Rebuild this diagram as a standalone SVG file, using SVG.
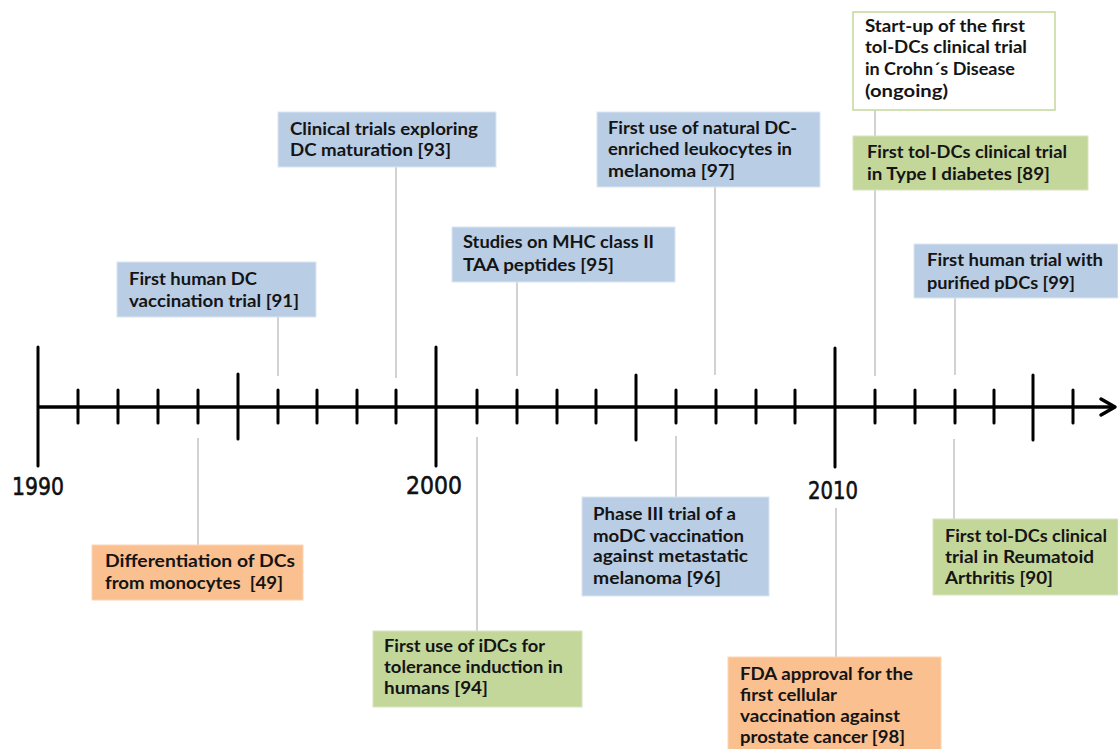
<svg xmlns="http://www.w3.org/2000/svg" width="1118" height="749" viewBox="0 0 1118 749">
<style>
.bg{fill:#ffffff}
.blue{fill:#b9cde5;stroke:#dbe5f1;stroke-width:1}
.green{fill:#c4d79b;stroke:#d7e4bd;stroke-width:1}
.orange{fill:#fac090;stroke:#fcd5b5;stroke-width:1}
.white{fill:#ffffff;stroke:#c4d79b;stroke-width:1.5}
.t{font-family:Lato,"Open Sans","Liberation Sans",sans-serif;font-weight:bold;font-size:16.5px;fill:#141414}
.yr{font-family:"DejaVu Sans","Liberation Sans",sans-serif;font-size:24px;fill:#111;stroke:#111;stroke-width:0.6}
.conn{stroke:#c3c3c3;stroke-width:1.5;fill:none}
.axis{stroke:#000;stroke-width:3.5;fill:none}
.tick{stroke:#000;stroke-width:3;stroke-linecap:round}
</style>
<rect class="bg" x="0" y="0" width="1118" height="749"/>
<g id="connectors">
<line class="conn" x1="278" y1="317" x2="278" y2="376"/>
<line class="conn" x1="396" y1="167" x2="396" y2="378"/>
<line class="conn" x1="517" y1="282" x2="517" y2="376"/>
<line class="conn" x1="715" y1="187" x2="715" y2="375"/>
<line class="conn" x1="875" y1="110" x2="875" y2="376"/>
<line class="conn" x1="955" y1="298" x2="955" y2="375"/>
<line class="conn" x1="198" y1="438" x2="198" y2="545"/>
<line class="conn" x1="477" y1="437" x2="477" y2="631"/>
<line class="conn" x1="676" y1="436" x2="676" y2="497"/>
<line class="conn" x1="836" y1="508" x2="836" y2="657"/>
<line class="conn" x1="954" y1="439" x2="954" y2="519"/>
</g>
<g id="axis">
<line class="axis" x1="38" y1="407" x2="1114" y2="407"/>
<polyline class="axis" points="1101,399 1115,407 1101,415" stroke-linejoin="round" stroke-linecap="round"/>
<line class="tick" x1="38" y1="347" x2="38" y2="466"/>
<line class="tick" x1="436" y1="347" x2="436" y2="466"/>
<line class="tick" x1="835" y1="348" x2="835" y2="467"/>
<line class="tick" x1="238" y1="374" x2="238" y2="439"/>
<line class="tick" x1="636" y1="375" x2="636" y2="440"/>
<line class="tick" x1="1033" y1="375" x2="1033" y2="440"/>
<g>
<line class="tick" x1="78" y1="390" x2="78" y2="423"/>
<line class="tick" x1="118" y1="390" x2="118" y2="423"/>
<line class="tick" x1="158" y1="390" x2="158" y2="423"/>
<line class="tick" x1="198" y1="390" x2="198" y2="423"/>
<line class="tick" x1="278" y1="390" x2="278" y2="423"/>
<line class="tick" x1="317" y1="390" x2="317" y2="423"/>
<line class="tick" x1="357" y1="390" x2="357" y2="423"/>
<line class="tick" x1="396" y1="390" x2="396" y2="423"/>
<line class="tick" x1="477" y1="390" x2="477" y2="423"/>
<line class="tick" x1="517" y1="390" x2="517" y2="423"/>
<line class="tick" x1="557" y1="390" x2="557" y2="423"/>
<line class="tick" x1="596" y1="390" x2="596" y2="423"/>
<line class="tick" x1="676" y1="390" x2="676" y2="423"/>
<line class="tick" x1="716" y1="390" x2="716" y2="423"/>
<line class="tick" x1="756" y1="390" x2="756" y2="423"/>
<line class="tick" x1="795" y1="390" x2="795" y2="423"/>
<line class="tick" x1="875" y1="390" x2="875" y2="423"/>
<line class="tick" x1="915" y1="390" x2="915" y2="423"/>
<line class="tick" x1="955" y1="390" x2="955" y2="423"/>
<line class="tick" x1="994" y1="390" x2="994" y2="423"/>
<line class="tick" x1="1073" y1="390" x2="1073" y2="423"/>
</g>
<text class="yr" x="12" y="495" textLength="52" lengthAdjust="spacingAndGlyphs">1990</text>
<text class="yr" x="406" y="494" textLength="56" lengthAdjust="spacingAndGlyphs">2000</text>
<text class="yr" x="808" y="499" textLength="50" lengthAdjust="spacingAndGlyphs">2010</text>
</g>
<g id="n91">
<rect class="blue" x="117" y="262" width="199" height="55"/>
<text class="t" x="129" y="285" textLength="128" lengthAdjust="spacingAndGlyphs">First human DC</text>
<text class="t" x="129" y="307" textLength="170" lengthAdjust="spacingAndGlyphs">vaccination trial [91]</text>
</g>
<g id="n93">
<rect class="blue" x="278" y="112" width="218" height="55"/>
<text class="t" x="290" y="135" textLength="188" lengthAdjust="spacingAndGlyphs">Clinical trials exploring</text>
<text class="t" x="290" y="156" textLength="161" lengthAdjust="spacingAndGlyphs">DC maturation [93]</text>
</g>
<g id="n95">
<rect class="blue" x="452" y="227" width="223" height="55"/>
<text class="t" x="463" y="248" textLength="191" lengthAdjust="spacingAndGlyphs">Studies on MHC class II</text>
<text class="t" x="463" y="271" textLength="151" lengthAdjust="spacingAndGlyphs">TAA peptides [95]</text>
</g>
<g id="n97">
<rect class="blue" x="597" y="112" width="223" height="75"/>
<text class="t" x="608" y="134" textLength="189" lengthAdjust="spacingAndGlyphs">First use of natural DC-</text>
<text class="t" x="608" y="155" textLength="184" lengthAdjust="spacingAndGlyphs">enriched leukocytes in</text>
<text class="t" x="608" y="177" textLength="127" lengthAdjust="spacingAndGlyphs">melanoma [97]</text>
</g>
<g id="nCrohn">
<rect class="white" x="853" y="12" width="202" height="98"/>
<text class="t" x="865" y="32" textLength="160" lengthAdjust="spacingAndGlyphs">Start-up of the first</text>
<text class="t" x="865" y="53" textLength="162" lengthAdjust="spacingAndGlyphs">tol-DCs clinical trial</text>
<text class="t" x="865" y="75" textLength="150" lengthAdjust="spacingAndGlyphs">in Crohn´s Disease</text>
<text class="t" x="865" y="97" textLength="83" lengthAdjust="spacingAndGlyphs">(ongoing)</text>
</g>
<g id="n89">
<rect class="green" x="853" y="136" width="235" height="54"/>
<text class="t" x="867" y="158" textLength="200" lengthAdjust="spacingAndGlyphs">First tol-DCs clinical trial</text>
<text class="t" x="867" y="180" textLength="183" lengthAdjust="spacingAndGlyphs">in Type I diabetes [89]</text>
</g>
<g id="n99">
<rect class="blue" x="914" y="244" width="204" height="54"/>
<text class="t" x="927" y="266" textLength="176" lengthAdjust="spacingAndGlyphs">First human trial with</text>
<text class="t" x="927" y="289" textLength="148" lengthAdjust="spacingAndGlyphs">purified pDCs [99]</text>
</g>
<g id="n49">
<rect class="orange" x="92" y="545" width="211" height="55"/>
<text class="t" x="105" y="567" textLength="190" lengthAdjust="spacingAndGlyphs">Differentiation of DCs</text>
<text class="t" x="105" y="589" textLength="178" lengthAdjust="spacingAndGlyphs" xml:space="preserve">from monocytes  [49]</text>
</g>
<g id="n94">
<rect class="green" x="373" y="631" width="209" height="76"/>
<text class="t" x="384" y="652" textLength="161" lengthAdjust="spacingAndGlyphs">First use of iDCs for</text>
<text class="t" x="384" y="673" textLength="179" lengthAdjust="spacingAndGlyphs">tolerance induction in</text>
<text class="t" x="384" y="694" textLength="104" lengthAdjust="spacingAndGlyphs">humans [94]</text>
</g>
<g id="n96">
<rect class="blue" x="582" y="497" width="187" height="99"/>
<text class="t" x="593" y="520" textLength="143" lengthAdjust="spacingAndGlyphs">Phase III trial of a</text>
<text class="t" x="593" y="542" textLength="151" lengthAdjust="spacingAndGlyphs">moDC vaccination</text>
<text class="t" x="593" y="562" textLength="155" lengthAdjust="spacingAndGlyphs">against metastatic</text>
<text class="t" x="593" y="584" textLength="128" lengthAdjust="spacingAndGlyphs">melanoma [96]</text>
</g>
<g id="n98">
<rect class="orange" x="728" y="657" width="213" height="95"/>
<text class="t" x="740" y="680" textLength="173" lengthAdjust="spacingAndGlyphs">FDA approval for the</text>
<text class="t" x="740" y="701" textLength="97" lengthAdjust="spacingAndGlyphs">first cellular</text>
<text class="t" x="740" y="722" textLength="160" lengthAdjust="spacingAndGlyphs">vaccination against</text>
<text class="t" x="740" y="743" textLength="165" lengthAdjust="spacingAndGlyphs">prostate cancer [98]</text>
</g>
<g id="n90">
<rect class="green" x="933" y="519" width="185" height="76"/>
<text class="t" x="945" y="542" textLength="162" lengthAdjust="spacingAndGlyphs">First tol-DCs clinical</text>
<text class="t" x="945" y="563" textLength="149" lengthAdjust="spacingAndGlyphs">trial in Reumatoid</text>
<text class="t" x="945" y="584" textLength="108" lengthAdjust="spacingAndGlyphs">Arthritis [90]</text>
</g>
</svg>
